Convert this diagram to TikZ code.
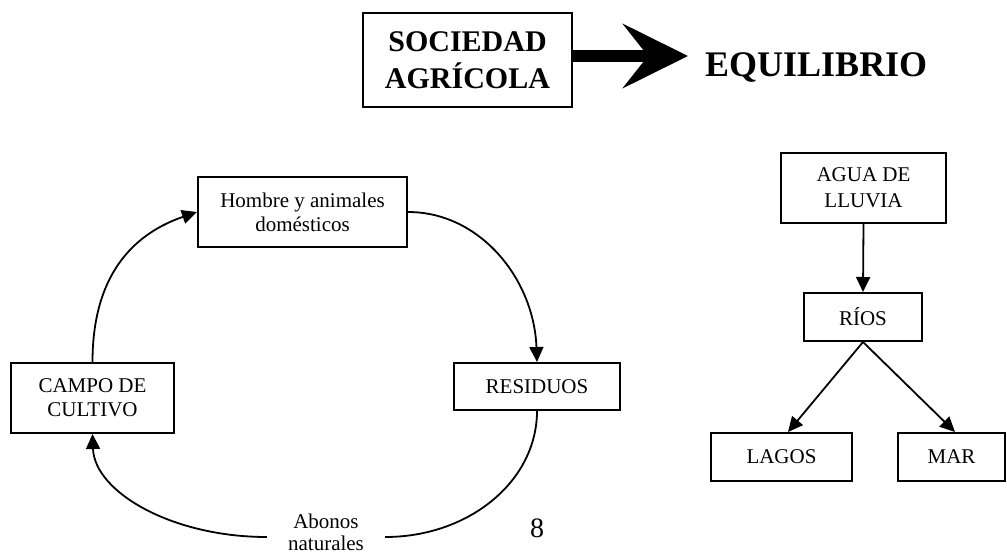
\documentclass[tikz,border=0pt]{standalone}
\usepackage{fontspec}
\setmainfont{Liberation Serif}
\usetikzlibrary{arrows.meta}
\begin{document}
\begin{tikzpicture}[x=1pt,y=-1pt,
  box/.style={draw,line width=2pt,rectangle,inner sep=0pt,align=center,
    font=\fontsize{21}{24}\selectfont},
  conn/.style={line width=1.8pt,-{Triangle[length=15pt,width=14pt]}},
  plain/.style={line width=1.8pt}]
\useasboundingbox (0,0) rectangle (1007,556);
% top
\node[box,line width=2.2pt,minimum width=209pt,minimum height=94pt,
  font=\fontsize{30}{37}\selectfont\bfseries] (soc) at (467.5,60) {SOCIEDAD\\AGRÍCOLA};
\node[anchor=base west,inner sep=0pt,font=\fontsize{36}{40}\selectfont\bfseries] (equi) at (705,77) {EQUILIBRIO};
\coordinate (tip) at (688,56);
\draw[line width=12pt,-{Stealth[length=65pt,width=64pt,inset=25pt]}] (soc.east |- tip) -- (tip);
% cycle
\node[box,minimum width=209pt,minimum height=70pt] (hombre) at (302.5,212) {Hombre y animales\\domésticos};
\node[box,minimum width=163pt,minimum height=70pt] (campo) at (92.5,398) {CAMPO DE\\CULTIVO};
\node[box,minimum width=166pt,minimum height=47pt] (resid) at (537,386.5) {RESIDUOS};
\node[inner sep=0pt,minimum width=118pt,align=center,font=\fontsize{21}{22}\selectfont] (abonos) at (326,532) {Abonos\\naturales};
\draw[conn] (campo.north) .. controls +(0,-93) and +(-58,20) .. (hombre.west);
\draw[conn] (hombre.east) .. controls +(72,0) and +(-3,-83) .. (resid.north);
\draw[plain] (resid.south) .. controls +(0,70) and +(84,0) .. ([yshift=-5pt]abonos.east);
\draw[conn] ([yshift=-5pt]abonos.west) .. controls +(-95,0) and +(2,58) .. (campo.south);
\node[inner sep=0pt,font=\fontsize{28}{30}\selectfont] (pg) at (537,528) {8};
% tree
\node[box,minimum width=165pt,minimum height=70pt,font=\fontsize{21}{26}\selectfont] (agua) at (863.5,188) {AGUA DE\\LLUVIA};
\node[box,minimum width=118pt,minimum height=48pt] (rios) at (863,317) {RÍOS};
\node[box,minimum width=141pt,minimum height=48pt] (lagos) at (781.5,457) {LAGOS};
\node[box,minimum width=107pt,minimum height=48pt] (mar) at (951.5,457) {MAR};
\draw[conn] (agua.south) -- (rios.north);
\draw[conn] (rios.south) -- ([xshift=6.5pt]lagos.north);
\draw[conn] (rios.south) -- ([xshift=3.5pt]mar.north);
\end{tikzpicture}
\end{document}
